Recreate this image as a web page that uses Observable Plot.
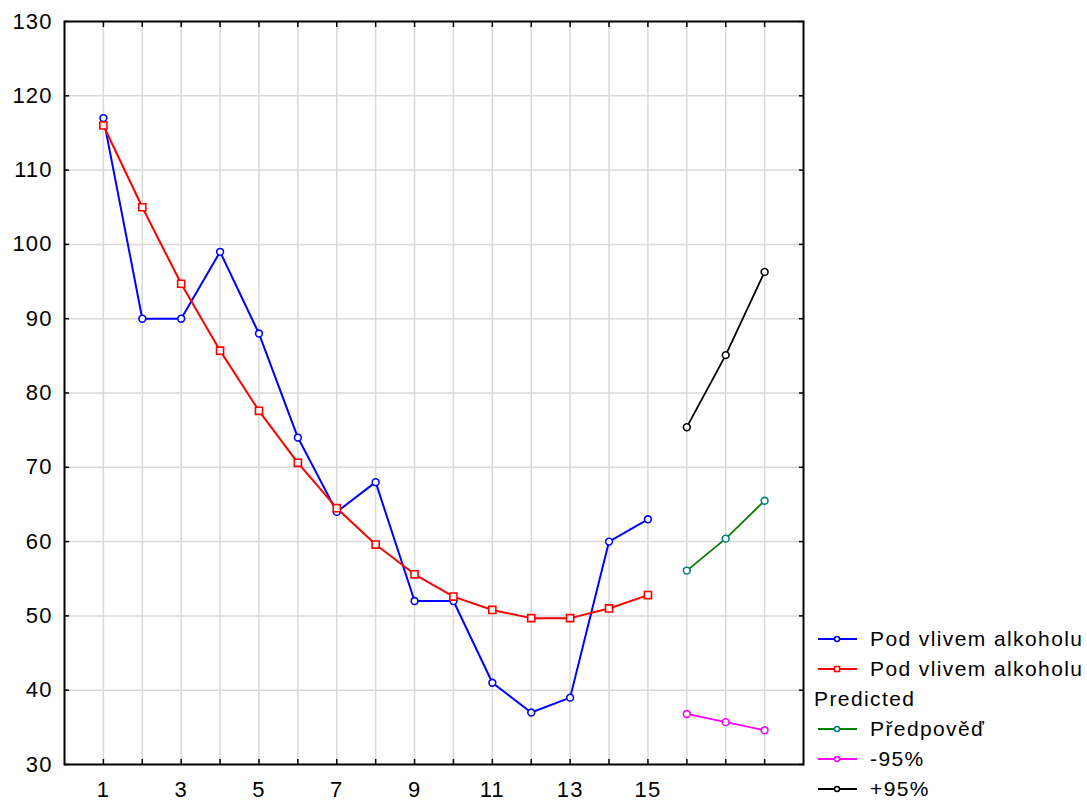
<!DOCTYPE html>
<html>
<head>
<meta charset="utf-8">
<script src="https://cdn.jsdelivr.net/npm/d3@7"></script>
<script src="https://cdn.jsdelivr.net/npm/@observablehq/plot@0.6"></script>
<style>
  html, body { margin: 0; padding: 0; background: white; }
  svg { display: block; }
</style>
</head>
<body>
<div id="chart"></div>
<script>
// ---- data ----
const periods = [1, 2, 3, 4, 5, 6, 7, 8, 9, 10, 11, 12, 13, 14, 15];
const observed = [117, 90, 90, 99, 88, 74, 64, 68, 52, 52, 41, 37, 39, 60, 63];
const smoothed = [116, 105, 94.7, 85.7, 77.6, 70.6, 64.5, 59.6, 55.6, 52.6, 50.8, 49.7, 49.7, 51.0, 52.8];
const predPeriods = [16, 17, 18];
const predicted = [56.1, 60.4, 65.5];
const lower95 = [36.8, 35.7, 34.6];
const upper95 = [75.4, 85.1, 96.3];
const xTickLabels = [1, 3, 5, 7, 9, 11, 13, 15];
const xGrid = [1, 2, 3, 4, 5, 6, 7, 8, 9, 10, 11, 12, 13, 14, 15, 16, 17, 18];
const yTicks = [30, 40, 50, 60, 70, 80, 90, 100, 110, 120, 130];
const legendLabels = ["Pod vlivem alkoholu", "Pod vlivem alkoholu", "Predicted", "Předpověď", "-95%", "+95%"];

const obsData = periods.map((p, i) => ({x: p, y: observed[i]}));
const smoothData = periods.map((p, i) => ({x: p, y: smoothed[i]}));
const predData = predPeriods.map((p, i) => ({x: p, y: predicted[i]}));
const lowData = predPeriods.map((p, i) => ({x: p, y: lower95[i]}));
const upData = predPeriods.map((p, i) => ({x: p, y: upper95[i]}));

const FONT = "'Liberation Sans', Arial, sans-serif";
const gridStyle = {stroke: "#d9d9d9", strokeOpacity: 1, strokeWidth: 1.5};
const noText = () => "";

const chart = Plot.plot({
  width: 1087,
  height: 802,
  marginLeft: 64,
  marginRight: 284,
  marginTop: 21,
  marginBottom: 38,
  style: {fontFamily: FONT, fontSize: "21px", background: "white", color: "black", overflow: "visible"},
  x: {domain: [0, 19], label: null},
  y: {domain: [30, 130], label: null},
  marks: [
    Plot.gridX(xGrid, gridStyle),
    Plot.gridY(yTicks.slice(1, -1), gridStyle),
    // inward tick marks on all four sides
    Plot.axisX(xGrid, {anchor: "bottom", tickSize: 5, dy: -5, tickFormat: noText, strokeWidth: 1.5}),
    Plot.axisX(xGrid, {anchor: "top", tickSize: 5, dy: 5, tickFormat: noText, strokeWidth: 1.5}),
    Plot.axisY(yTicks, {anchor: "left", tickSize: 5, dx: 5, tickFormat: noText, strokeWidth: 1.5}),
    Plot.axisY(yTicks, {anchor: "right", tickSize: 5, dx: -5, tickFormat: noText, strokeWidth: 1.5}),
    // tick labels
    Plot.axisX(xTickLabels, {anchor: "bottom", tickSize: 0, tickPadding: 17, fontSize: 22}),
    Plot.axisY(yTicks, {anchor: "left", tickSize: 0, tickPadding: 12, fontSize: 22}),
    Plot.frame({stroke: "black", strokeWidth: 2}),
    // series
    Plot.line(obsData, {x: "x", y: "y", stroke: "#0000ff", strokeWidth: 2}),
    Plot.line(smoothData, {x: "x", y: "y", stroke: "#ff0000", strokeWidth: 2}),
    Plot.line(predData, {x: "x", y: "y", stroke: "#008000", strokeWidth: 1.8}),
    Plot.line(lowData, {x: "x", y: "y", stroke: "#ff00ff", strokeWidth: 1.8}),
    Plot.line(upData, {x: "x", y: "y", stroke: "#000000", strokeWidth: 1.8}),
    Plot.dot(obsData, {x: "x", y: "y", r: 3.4, stroke: "#0000ff", fill: "white", strokeWidth: 1.6}),
    Plot.dot(smoothData, {x: "x", y: "y", r: 4, symbol: "square", stroke: "#ff0000", fill: "white", strokeWidth: 1.6}),
    Plot.dot(predData, {x: "x", y: "y", r: 3.4, stroke: "#008080", fill: "white", strokeWidth: 1.6}),
    Plot.dot(lowData, {x: "x", y: "y", r: 3.4, stroke: "#ff00ff", fill: "white", strokeWidth: 1.6}),
    Plot.dot(upData, {x: "x", y: "y", r: 3.4, stroke: "#000000", fill: "white", strokeWidth: 1.6})
  ]
});

// tick label letter spacing to mimic the wide original font
d3.select(chart).selectAll("text").style("letter-spacing", "1.1px");

// ---- legend (right side) ----
const legendItems = [
  {label: legendLabels[0], line: "#0000ff", marker: "#0000ff", symbol: "circle"},
  {label: legendLabels[1], line: "#ff0000", marker: "#ff0000", symbol: "square"},
  {label: legendLabels[2], line: null},
  {label: legendLabels[3], line: "#008000", marker: "#008080", symbol: "circle"},
  {label: legendLabels[4], line: "#ff00ff", marker: "#ff00ff", symbol: "circle"},
  {label: legendLabels[5], line: "#000000", marker: "#000000", symbol: "circle"}
];
const lg = d3.select(chart).append("g")
  .attr("font-family", FONT).attr("font-size", 21)
  .attr("text-anchor", "start").attr("fill", "black");
legendItems.forEach((it, i) => {
  const cy = 639 + i * 30;
  if (it.line) {
    lg.append("line").attr("x1", 818).attr("x2", 857).attr("y1", cy).attr("y2", cy)
      .attr("stroke", it.line).attr("stroke-width", 1.8);
    if (it.symbol === "square") {
      lg.append("rect").attr("x", 834.5).attr("y", cy - 2.5).attr("width", 5).attr("height", 5)
        .attr("fill", "white").attr("stroke", it.marker).attr("stroke-width", 1.5);
    } else {
      lg.append("circle").attr("cx", 837).attr("cy", cy).attr("r", 2.5)
        .attr("fill", "white").attr("stroke", it.marker).attr("stroke-width", 1.5);
    }
    lg.append("text").attr("x", 870).attr("y", cy).attr("dy", "0.35em")
      .attr("text-anchor", "start").style("letter-spacing", "1.4px").text(it.label);
  } else {
    lg.append("text").attr("x", 814).attr("y", cy).attr("dy", "0.35em")
      .attr("text-anchor", "start").style("letter-spacing", "1.4px").text(it.label);
  }
});

document.getElementById("chart").appendChild(chart);
</script>
</body>
</html>
